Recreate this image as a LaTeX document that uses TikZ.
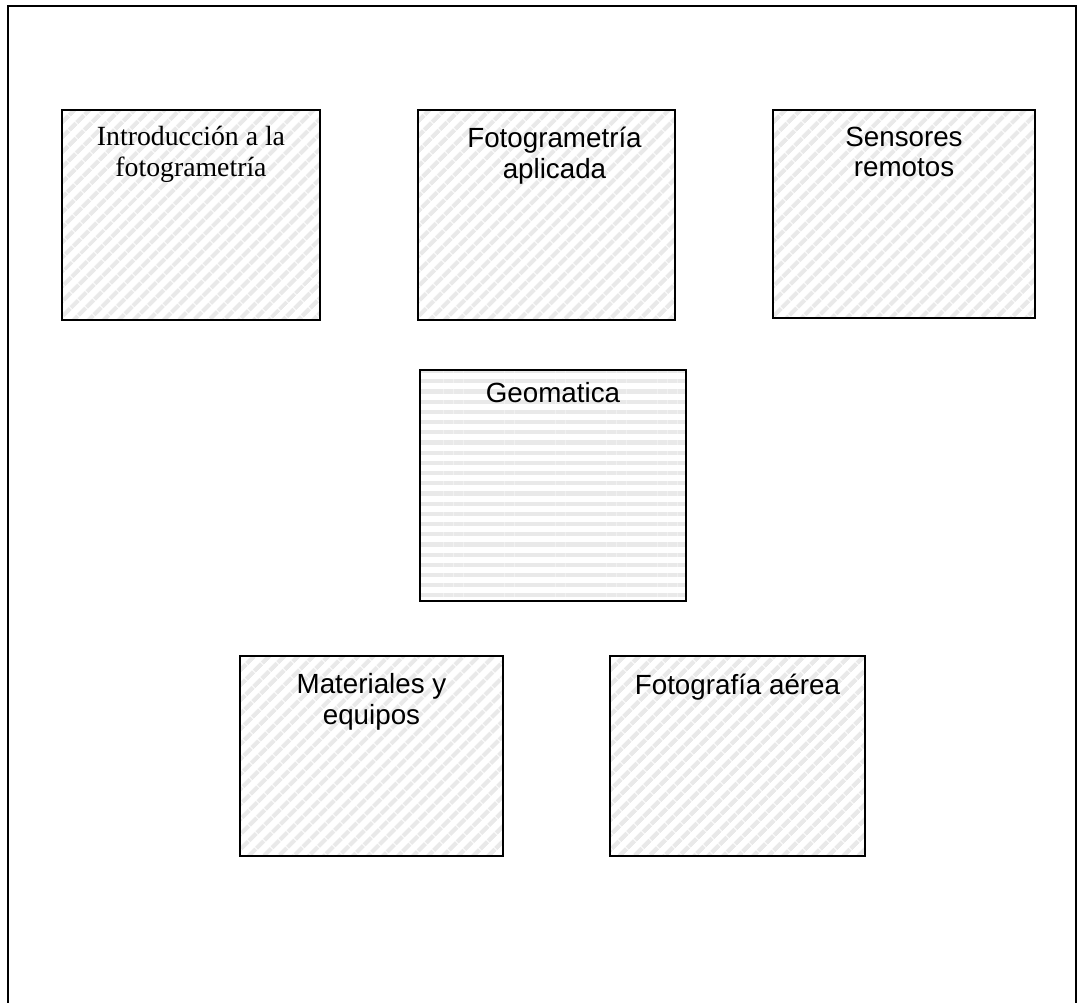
\documentclass[tikz,border=0pt]{standalone}
\usepackage{fontspec}
\setmainfont{Liberation Sans}
\newfontfamily\timesfont{Liberation Serif}
\usetikzlibrary{positioning,patterns.meta}

\begin{document}
\begin{tikzpicture}[
    x=0.02cm, y=-0.02cm,
    frame/.style={line width=1.1pt, black},
    tema/.style={rectangle, draw, line width=0.8pt, inner sep=0pt,
      pattern={Lines[angle=45, distance=6.5pt, line width=2.8pt]}, pattern color=gray!17},
    centro/.style={rectangle, draw, line width=0.8pt, inner sep=0pt,
      pattern={Lines[angle=0, distance=5.8pt, line width=2.4pt]}, pattern color=gray!17},
    titulo/.style={align=center, font=\fontsize{15.8pt}{17.6pt}\selectfont, inner sep=0pt, anchor=north}
  ]

  % Page area
  \useasboundingbox (0,0) rectangle (1080,1003);
  \draw[frame] (8,1010) -- (8,6) -- (1076,6) -- (1076,1010);

  % Top row
  \node[tema, minimum width=5.16cm, minimum height=4.2cm] (intro) at (191,215) {};
  \node[tema, minimum width=5.14cm, minimum height=4.2cm] (aplicada) at (546.5,215) {};
  \node[tema, minimum width=5.24cm, minimum height=4.16cm] (sensores) at (904,214) {};

  % Centre
  \node[centro, minimum width=5.32cm, minimum height=4.62cm] (geomatica) at (553,485.5) {};

  % Bottom row
  \node[tema, minimum width=5.26cm, minimum height=4.0cm] (materiales) at (371.5,756) {};
  \node[tema, minimum width=5.1cm, minimum height=4.0cm] (aerea) at (737.5,756) {};

  % Labels
  \node[titulo, font=\timesfont\fontsize{15.8pt}{17.6pt}\selectfont, below=0.36cm of intro.north] {Introducción a la\\fotogrametría};
  \node[titulo, below=0.34cm of aplicada.north, xshift=0.16cm] {Fotogrametría\\aplicada};
  \node[titulo, below=0.34cm of sensores.north] {Sensores\\remotos};
  \node[titulo, below=0.28cm of geomatica.north] {Geomatica};
  \node[titulo, below=0.36cm of materiales.north] {Materiales y\\equipos};
  \node[titulo, below=0.36cm of aerea.north] {Fotografía aérea};

\end{tikzpicture}
\end{document}
